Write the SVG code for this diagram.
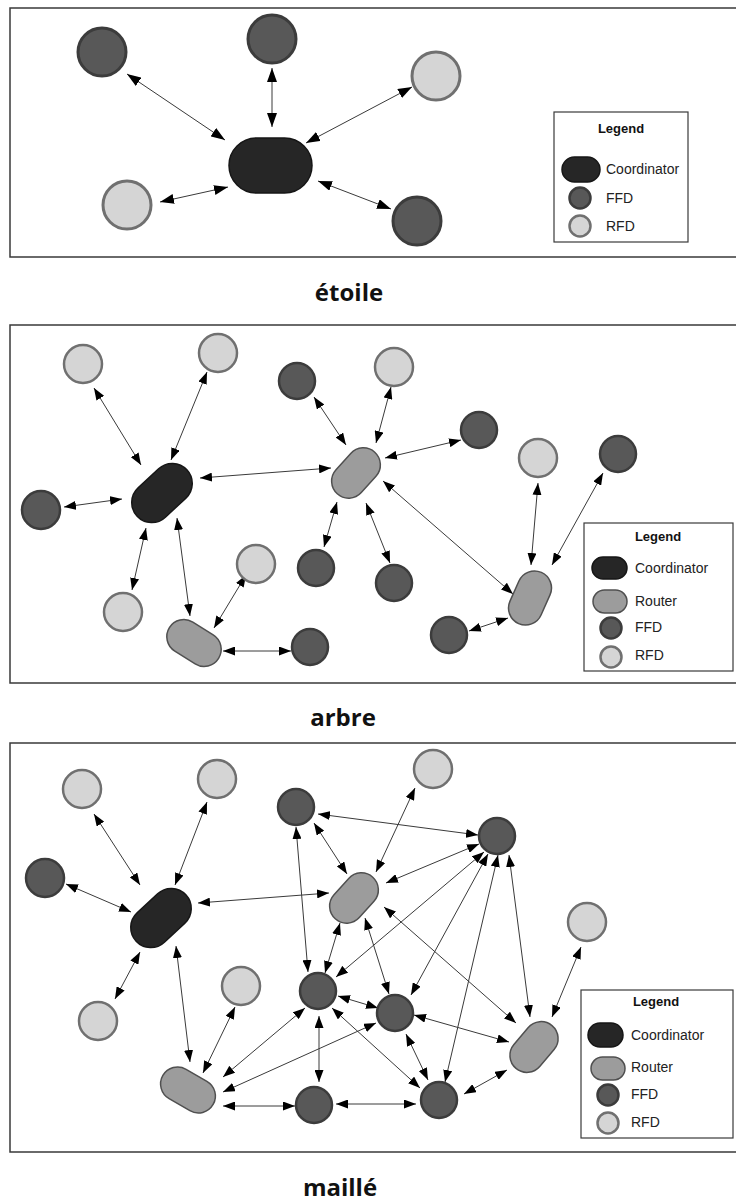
<svg xmlns="http://www.w3.org/2000/svg" width="736" height="1202" viewBox="0 0 736 1202">
  <style>
    .frame { fill: none; stroke: #3a3a3a; stroke-width: 1.5; }
    .ffd { fill: #585858; stroke: #3c3c3c; stroke-width: 2.5; }
    .rfd { fill: #d5d5d5; stroke: #707070; stroke-width: 2.5; }
    .coord { fill: #262626; stroke: #161616; stroke-width: 1.5; }
    .router { fill: #9c9c9c; stroke: #505050; stroke-width: 1.5; }
    .big { stroke-width: 3; }
    .link { stroke: #3a3a3a; stroke-width: 1; fill: none; marker-start: url(#ah); marker-end: url(#ah); }
    .link1 { stroke: #3a3a3a; stroke-width: 1; fill: none; marker-start: url(#ahL); marker-end: url(#ahL); }
    .legbox { fill: #fff; stroke: #3a3a3a; stroke-width: 1.2; }
    .legtitle { font-family: "Liberation Sans", Arial, sans-serif; font-weight: bold; font-size: 13px; fill: #111; text-anchor: middle; }
    .legtxt { font-family: "Liberation Sans", Arial, sans-serif; font-size: 14px; fill: #222; dominant-baseline: central; }
    .caption { font-family: "Open Sans", "DejaVu Sans", sans-serif; font-weight: bold; font-size: 24px; fill: #111; text-anchor: middle; }
  </style>
  <defs>
    <marker id="ah" viewBox="0 0 12 9" refX="12" refY="4.5" markerWidth="12" markerHeight="9" markerUnits="userSpaceOnUse" orient="auto-start-reverse">
      <path d="M0,0 L12,4.5 L0,9 Z" fill="#000"/>
    </marker>
    <marker id="ahL" viewBox="0 0 14 10" refX="14" refY="5" markerWidth="14" markerHeight="10" markerUnits="userSpaceOnUse" orient="auto-start-reverse">
      <path d="M0,0 L14,5 L0,10 Z" fill="#000"/>
    </marker>
  </defs>
  <rect width="736" height="1202" fill="#fff"/>

  <!-- ===== Star topology ===== -->
  <g id="star">
    <path class="frame" d="M736,8 H10 V257 H736"/>
    <g id="star-links">
      <line class="link1" x1="127" y1="74" x2="225" y2="140"/>
      <line class="link1" x1="272" y1="68" x2="272" y2="127"/>
      <line class="link1" x1="412" y1="87" x2="306" y2="143"/>
      <line class="link1" x1="160" y1="202" x2="228" y2="187"/>
      <line class="link1" x1="318" y1="181" x2="391" y2="209"/>
    </g>
    <g id="star-coordinator"><rect class="coord" x="229" y="138" width="83" height="55" rx="27.5"/></g>
    <g id="star-ffd-1"><circle class="ffd big" cx="102" cy="52" r="24"/></g>
    <g id="star-ffd-2"><circle class="ffd big" cx="272" cy="39" r="24"/></g>
    <g id="star-rfd-1"><circle class="rfd big" cx="436" cy="76" r="24"/></g>
    <g id="star-rfd-2"><circle class="rfd big" cx="127" cy="205" r="24"/></g>
    <g id="star-ffd-3"><circle class="ffd big" cx="417" cy="221" r="24"/></g>
    <g id="star-legend">
      <rect class="legbox" x="554" y="112" width="134" height="130"/>
      <text class="legtitle" x="621" y="133" font-size="14">Legend</text>
      <rect class="coord" x="562" y="157" width="38" height="25" rx="12.5"/>
      <text class="legtxt" x="606" y="169">Coordinator</text>
      <circle class="ffd" cx="580" cy="198" r="10.5"/>
      <text class="legtxt" x="606" y="198">FFD</text>
      <circle class="rfd" cx="580" cy="226" r="10.5"/>
      <text class="legtxt" x="606" y="226">RFD</text>
    </g>
  </g>
  <text class="caption" x="349" y="301">étoile</text>

  <!-- ===== Tree topology ===== -->
  <g id="tree">
    <path class="frame" d="M736,325 H10 V683 H736"/>
    <g id="tree-links">
      <line class="link" x1="94" y1="388" x2="141" y2="465"/>
      <line class="link" x1="207" y1="372" x2="171" y2="460"/>
      <line class="link" x1="64" y1="507" x2="122" y2="499"/>
      <line class="link" x1="200" y1="478" x2="331" y2="468"/>
      <line class="link" x1="146" y1="528" x2="132" y2="590"/>
      <line class="link" x1="177" y1="518" x2="190" y2="616"/>
      <line class="link" x1="214" y1="628" x2="246" y2="575"/>
      <line class="link" x1="223" y1="651" x2="291" y2="651"/>
      <line class="link" x1="314" y1="397" x2="346" y2="445"/>
      <line class="link" x1="391" y1="387" x2="376" y2="443"/>
      <line class="link" x1="461" y1="440" x2="385" y2="458"/>
      <line class="link" x1="337" y1="502" x2="324" y2="547"/>
      <line class="link" x1="366" y1="503" x2="390" y2="563"/>
      <line class="link" x1="383" y1="481" x2="513" y2="594"/>
      <line class="link" x1="538" y1="483" x2="531" y2="565"/>
      <line class="link" x1="603" y1="473" x2="552" y2="565"/>
      <line class="link" x1="508" y1="618" x2="469" y2="631"/>
    </g>
    <g id="tree-coordinator"><rect class="coord" x="128" y="473" width="68" height="40" rx="20" transform="rotate(-43 162 493)"/></g>
    <g id="tree-router-1"><rect class="router" x="328" y="456" width="56" height="34" rx="17" transform="rotate(-48 356 473)"/></g>
    <g id="tree-router-2"><rect class="router" x="165" y="626" width="58" height="34" rx="17" transform="rotate(32 194 643)"/></g>
    <g id="tree-router-3"><rect class="router" x="502" y="581" width="56" height="34" rx="17" transform="rotate(-66 530 598)"/></g>
    <g id="tree-rfd-1"><circle class="rfd" cx="83" cy="364" r="19"/></g>
    <g id="tree-rfd-2"><circle class="rfd" cx="218" cy="353" r="19"/></g>
    <g id="tree-ffd-1"><circle class="ffd" cx="297" cy="381" r="18"/></g>
    <g id="tree-rfd-3"><circle class="rfd" cx="394" cy="367" r="19"/></g>
    <g id="tree-ffd-2"><circle class="ffd" cx="479" cy="430" r="18"/></g>
    <g id="tree-rfd-4"><circle class="rfd" cx="538" cy="458" r="19"/></g>
    <g id="tree-ffd-3"><circle class="ffd" cx="618" cy="454" r="18"/></g>
    <g id="tree-ffd-4"><circle class="ffd" cx="41" cy="510" r="19"/></g>
    <g id="tree-ffd-5"><circle class="ffd" cx="316" cy="568" r="18"/></g>
    <g id="tree-ffd-6"><circle class="ffd" cx="394" cy="583" r="18"/></g>
    <g id="tree-rfd-5"><circle class="rfd" cx="256" cy="564" r="19"/></g>
    <g id="tree-rfd-6"><circle class="rfd" cx="123" cy="612" r="19"/></g>
    <g id="tree-ffd-7"><circle class="ffd" cx="310" cy="647" r="18"/></g>
    <g id="tree-ffd-8"><circle class="ffd" cx="449" cy="635" r="18"/></g>
    <g id="tree-legend">
      <rect class="legbox" x="584" y="523" width="149" height="148"/>
      <text class="legtitle" x="658" y="541">Legend</text>
      <rect class="coord" x="592" y="557" width="35" height="22" rx="11"/>
      <text class="legtxt" x="635" y="568">Coordinator</text>
      <rect class="router" x="593" y="590" width="34" height="23" rx="11.5"/>
      <text class="legtxt" x="635" y="601">Router</text>
      <circle class="ffd" cx="611" cy="628" r="10.5"/>
      <text class="legtxt" x="635" y="627">FFD</text>
      <circle class="rfd" cx="611" cy="657" r="10.5"/>
      <text class="legtxt" x="635" y="655">RFD</text>
    </g>
  </g>
  <text class="caption" x="343" y="726">arbre</text>

  <!-- ===== Mesh topology ===== -->
  <g id="mesh">
    <path class="frame" d="M736,743 H10 V1152 H736"/>
    <g id="mesh-links">
      <line class="link" x1="94" y1="814" x2="140" y2="885"/>
      <line class="link" x1="207" y1="802" x2="175" y2="885"/>
      <line class="link" x1="66" y1="884" x2="131" y2="912"/>
      <line class="link" x1="198" y1="903" x2="329" y2="893"/>
      <line class="link" x1="140" y1="952" x2="115" y2="999"/>
      <line class="link" x1="176" y1="946" x2="190" y2="1062"/>
      <line class="link" x1="203" y1="1073" x2="235" y2="1007"/>
      <line class="link" x1="223" y1="1106" x2="295" y2="1106"/>
      <line class="link" x1="336" y1="1104" x2="416" y2="1104"/>
      <line class="link" x1="318" y1="814" x2="478" y2="835"/>
      <line class="link" x1="314" y1="823" x2="347" y2="874"/>
      <line class="link" x1="296" y1="827" x2="308" y2="972"/>
      <line class="link" x1="415" y1="788" x2="376" y2="872"/>
      <line class="link" x1="479" y1="844" x2="386" y2="883"/>
      <line class="link" x1="340" y1="923" x2="325" y2="973"/>
      <line class="link" x1="365" y1="918" x2="389" y2="994"/>
      <line class="link" x1="384" y1="907" x2="516" y2="1023"/>
      <line class="link" x1="484" y1="852" x2="336" y2="977"/>
      <line class="link" x1="488" y1="854" x2="411" y2="995"/>
      <line class="link" x1="498" y1="855" x2="445" y2="1082"/>
      <line class="link" x1="509" y1="855" x2="530" y2="1017"/>
      <line class="link" x1="581" y1="947" x2="552" y2="1017"/>
      <line class="link" x1="338" y1="996" x2="378" y2="1008"/>
      <line class="link" x1="305" y1="1008" x2="223" y2="1077"/>
      <line class="link" x1="376" y1="1023" x2="223" y2="1092"/>
      <line class="link" x1="319" y1="1016" x2="319" y2="1082"/>
      <line class="link" x1="332" y1="1008" x2="420" y2="1088"/>
      <line class="link" x1="406" y1="1034" x2="428" y2="1080"/>
      <line class="link" x1="414" y1="1015" x2="509" y2="1042"/>
      <line class="link" x1="507" y1="1070" x2="464" y2="1094"/>
    </g>
    <g id="mesh-coordinator"><rect class="coord" x="127" y="898" width="68" height="40" rx="20" transform="rotate(-43 161 918)"/></g>
    <g id="mesh-router-1"><rect class="router" x="326" y="881" width="56" height="34" rx="17" transform="rotate(-48 354 898)"/></g>
    <g id="mesh-router-2"><rect class="router" x="159" y="1073" width="58" height="34" rx="17" transform="rotate(30 188 1090)"/></g>
    <g id="mesh-router-3"><rect class="router" x="506" y="1030" width="56" height="34" rx="17" transform="rotate(-50 534 1047)"/></g>
    <g id="mesh-rfd-1"><circle class="rfd" cx="82" cy="789" r="19"/></g>
    <g id="mesh-rfd-2"><circle class="rfd" cx="217" cy="779" r="19"/></g>
    <g id="mesh-ffd-1"><circle class="ffd" cx="45" cy="878" r="19"/></g>
    <g id="mesh-rfd-3"><circle class="rfd" cx="98" cy="1021" r="19"/></g>
    <g id="mesh-rfd-4"><circle class="rfd" cx="241" cy="986" r="19"/></g>
    <g id="mesh-ffd-2"><circle class="ffd" cx="296" cy="807" r="18"/></g>
    <g id="mesh-rfd-5"><circle class="rfd" cx="433" cy="769" r="19"/></g>
    <g id="mesh-ffd-3"><circle class="ffd" cx="497" cy="836" r="18"/></g>
    <g id="mesh-rfd-6"><circle class="rfd" cx="587" cy="922" r="19"/></g>
    <g id="mesh-ffd-4"><circle class="ffd" cx="318" cy="991" r="18"/></g>
    <g id="mesh-ffd-5"><circle class="ffd" cx="395" cy="1013" r="18"/></g>
    <g id="mesh-ffd-6"><circle class="ffd" cx="314" cy="1105" r="18"/></g>
    <g id="mesh-ffd-7"><circle class="ffd" cx="439" cy="1100" r="18"/></g>
    <g id="mesh-legend">
      <rect class="legbox" x="581" y="990" width="152" height="148"/>
      <text class="legtitle" x="656" y="1006">Legend</text>
      <rect class="coord" x="588" y="1023" width="35" height="24" rx="12"/>
      <text class="legtxt" x="631" y="1035">Coordinator</text>
      <rect class="router" x="591" y="1057" width="34" height="23" rx="11.5"/>
      <text class="legtxt" x="631" y="1067">Router</text>
      <circle class="ffd" cx="608" cy="1095" r="10.5"/>
      <text class="legtxt" x="631" y="1094">FFD</text>
      <circle class="rfd" cx="608" cy="1123" r="10.5"/>
      <text class="legtxt" x="631" y="1122">RFD</text>
    </g>
  </g>
  <text class="caption" x="340" y="1196">maillé</text>
</svg>
